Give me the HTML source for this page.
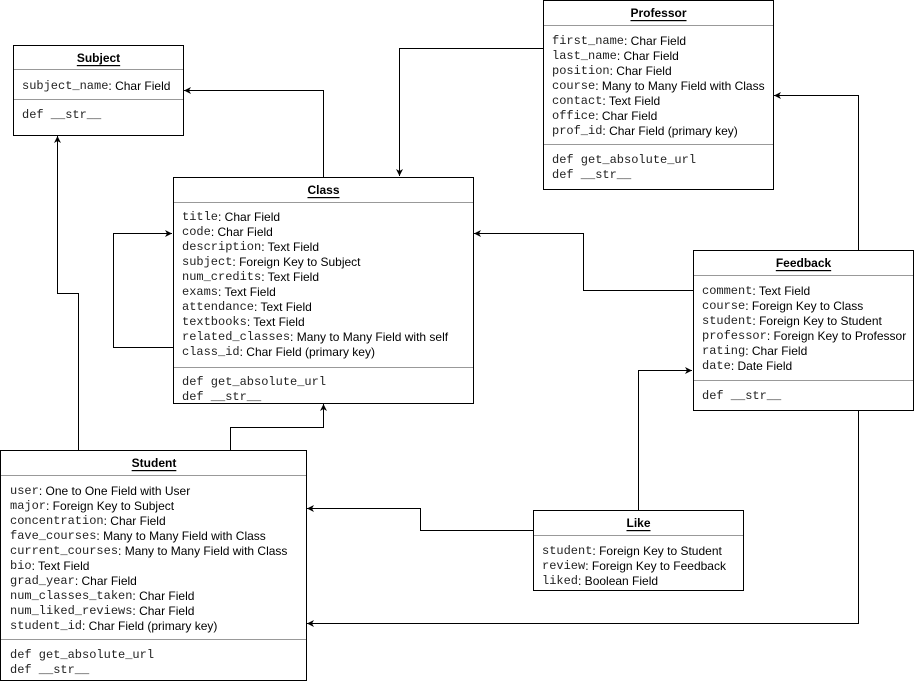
<!DOCTYPE html>
<html><head><meta charset="utf-8"><style>
html,body{margin:0;padding:0;background:#fff;}
svg{display:block}
text{font-family:"Liberation Sans",sans-serif;font-size:12px;fill:#000;dominant-baseline:central}
.m{font-family:"Liberation Mono",monospace;font-size:12px;fill:#222}
.t{font-weight:bold;text-decoration:underline;text-anchor:middle}
.b{fill:#fff;stroke:#000;stroke-width:1}
.d{stroke:#999;stroke-width:1}
.l{fill:none;stroke:#000;stroke-width:1}
</style></head><body>
<svg width="914" height="681" viewBox="0 0 914 681" xmlns="http://www.w3.org/2000/svg">
<defs><marker id="a" markerWidth="8" markerHeight="8" refX="7" refY="4" orient="auto" markerUnits="userSpaceOnUse"><path d="M0,0.5 L7,4 L0,7.5 L2,4 Z" fill="#000"/></marker></defs>

<polyline class="l" points="323.5,177 323.5,90.5 184,90.5" marker-end="url(#a)"/>
<polyline class="l" points="543,48.5 399.5,48.5 399.5,176" marker-end="url(#a)"/>
<polyline class="l" points="173,347.5 113.5,347.5 113.5,233.5 172,233.5" marker-end="url(#a)"/>
<polyline class="l" points="693,290.5 583.5,290.5 583.5,233.5 474,233.5" marker-end="url(#a)"/>
<polyline class="l" points="858.5,250 858.5,95.5 774,95.5" marker-end="url(#a)"/>
<polyline class="l" points="78.5,450 78.5,293.5 57.5,293.5 57.5,136" marker-end="url(#a)"/>
<polyline class="l" points="230.5,450 230.5,427.5 323.5,427.5 323.5,404" marker-end="url(#a)"/>
<polyline class="l" points="638.5,510 638.5,370.5 692,370.5" marker-end="url(#a)"/>
<polyline class="l" points="533,530.5 420.5,530.5 420.5,508.5 307,508.5" marker-end="url(#a)"/>
<polyline class="l" points="858.5,410 858.5,623.5 307,623.5" marker-end="url(#a)"/>

<g transform="translate(0,1)">
<rect class="b" x="13.5" y="44.5" width="170" height="90"/>
<line class="d" x1="14" y1="68.5" x2="183" y2="68.5"/>
<line class="d" x1="14" y1="98.5" x2="183" y2="98.5"/>
<text class="t" x="98.5" y="57">Subject</text>
<text x="22" y="85"><tspan class="m">subject_name</tspan>: Char Field</text>
<text class="m" x="22" y="114">def __str__</text>

<rect class="b" x="173.5" y="176.5" width="300" height="226"/>
<line class="d" x1="174" y1="201.5" x2="473" y2="201.5"/>
<line class="d" x1="174" y1="366.5" x2="473" y2="366.5"/>
<text class="t" x="323.5" y="189">Class</text>
<text x="182" y="216"><tspan class="m">title</tspan>: Char Field</text>
<text x="182" y="231"><tspan class="m">code</tspan>: Char Field</text>
<text x="182" y="246"><tspan class="m">description</tspan>: Text Field</text>
<text x="182" y="261"><tspan class="m">subject</tspan>: Foreign Key to Subject</text>
<text x="182" y="276"><tspan class="m">num_credits</tspan>: Text Field</text>
<text x="182" y="291"><tspan class="m">exams</tspan>: Text Field</text>
<text x="182" y="306"><tspan class="m">attendance</tspan>: Text Field</text>
<text x="182" y="321"><tspan class="m">textbooks</tspan>: Text Field</text>
<text x="182" y="336"><tspan class="m">related_classes</tspan>: Many to Many Field with self</text>
<text x="182" y="351"><tspan class="m">class_id</tspan>: Char Field (primary key)</text>
<text class="m" x="182" y="381">def get_absolute_url</text>
<text class="m" x="182" y="396">def __str__</text>

<rect class="b" x="543.5" y="-0.5" width="230" height="189"/>
<line class="d" x1="544" y1="24.5" x2="773" y2="24.5"/>
<line class="d" x1="544" y1="143.5" x2="773" y2="143.5"/>
<text class="t" x="658.5" y="12">Professor</text>
<text x="552" y="40"><tspan class="m">first_name</tspan>: Char Field</text>
<text x="552" y="55"><tspan class="m">last_name</tspan>: Char Field</text>
<text x="552" y="70"><tspan class="m">position</tspan>: Char Field</text>
<text x="552" y="85"><tspan class="m">course</tspan>: Many to Many Field with Class</text>
<text x="552" y="100"><tspan class="m">contact</tspan>: Text Field</text>
<text x="552" y="115"><tspan class="m">office</tspan>: Char Field</text>
<text x="552" y="130"><tspan class="m">prof_id</tspan>: Char Field (primary key)</text>
<text class="m" x="552" y="159">def get_absolute_url</text>
<text class="m" x="552" y="174">def __str__</text>

<rect class="b" x="693.5" y="249.5" width="220" height="160"/>
<line class="d" x1="694" y1="274.5" x2="913" y2="274.5"/>
<line class="d" x1="694" y1="379.5" x2="913" y2="379.5"/>
<text class="t" x="803.5" y="262">Feedback</text>
<text x="702" y="290"><tspan class="m">comment</tspan>: Text Field</text>
<text x="702" y="305"><tspan class="m">course</tspan>: Foreign Key to Class</text>
<text x="702" y="320"><tspan class="m">student</tspan>: Foreign Key to Student</text>
<text x="702" y="335"><tspan class="m">professor</tspan>: Foreign Key to Professor</text>
<text x="702" y="350"><tspan class="m">rating</tspan>: Char Field</text>
<text x="702" y="365"><tspan class="m">date</tspan>: Date Field</text>
<text class="m" x="702" y="395">def __str__</text>

<rect class="b" x="0.5" y="449.5" width="306" height="230"/>
<line class="d" x1="1" y1="474.5" x2="306" y2="474.5"/>
<line class="d" x1="1" y1="638.5" x2="306" y2="638.5"/>
<text class="t" x="154" y="462">Student</text>
<text x="10" y="490"><tspan class="m">user</tspan>: One to One Field with User</text>
<text x="10" y="505"><tspan class="m">major</tspan>: Foreign Key to Subject</text>
<text x="10" y="520"><tspan class="m">concentration</tspan>: Char Field</text>
<text x="10" y="535"><tspan class="m">fave_courses</tspan>: Many to Many Field with Class</text>
<text x="10" y="550"><tspan class="m">current_courses</tspan>: Many to Many Field with Class</text>
<text x="10" y="565"><tspan class="m">bio</tspan>: Text Field</text>
<text x="10" y="580"><tspan class="m">grad_year</tspan>: Char Field</text>
<text x="10" y="595"><tspan class="m">num_classes_taken</tspan>: Char Field</text>
<text x="10" y="610"><tspan class="m">num_liked_reviews</tspan>: Char Field</text>
<text x="10" y="625"><tspan class="m">student_id</tspan>: Char Field (primary key)</text>
<text class="m" x="10" y="654">def get_absolute_url</text>
<text class="m" x="10" y="669">def __str__</text>

<rect class="b" x="533.5" y="509.5" width="210" height="80"/>
<line class="d" x1="534" y1="534.5" x2="743" y2="534.5"/>
<text class="t" x="638.5" y="522">Like</text>
<text x="542" y="550"><tspan class="m">student</tspan>: Foreign Key to Student</text>
<text x="542" y="565"><tspan class="m">review</tspan>: Foreign Key to Feedback</text>
<text x="542" y="580"><tspan class="m">liked</tspan>: Boolean Field</text>
</g>
</svg>
</body></html>
